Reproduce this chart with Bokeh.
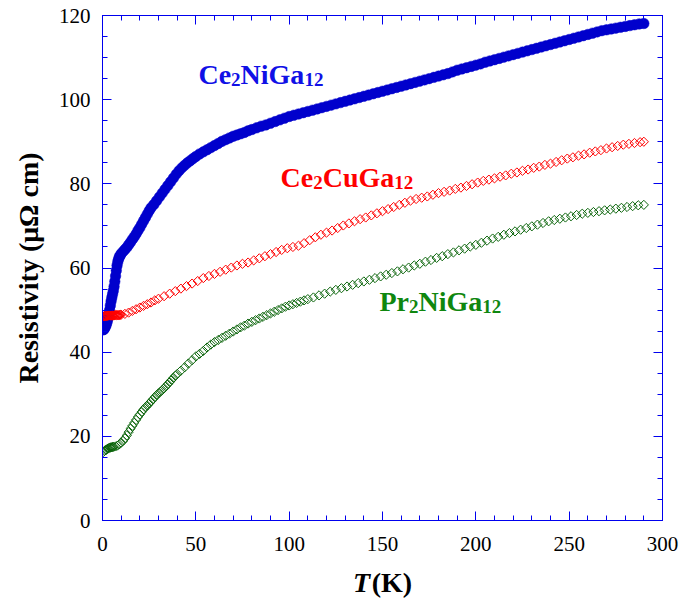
import numpy as np
from bokeh.plotting import figure
from bokeh.layouts import column
from bokeh.models import (Range1d, LinearAxis, SingleIntervalTicker, ColumnDataSource,
                          CustomJSTickFormatter)
from bokeh.core.properties import value
from bokeh.embed import file_html
from bokeh.resources import INLINE

# ---------------- data ----------------
T_ni = [0.3, 0.7, 1.0, 1.4, 1.8, 2.2, 2.6, 3.0, 3.4, 3.8, 4.2, 4.6, 5.0, 5.4, 5.8, 6.2, 6.6, 7.0,
        7.4, 7.8, 8.2, 8.6, 9.0, 9.5, 10, 11, 12, 13, 14, 15, 16, 17, 18, 19, 20, 21, 22, 23, 24, 25,
        26, 27.5, 29, 30.5, 32, 33.5, 35, 36.5, 38, 39.5, 41, 42.5, 44, 45.5, 47, 48.5, 50, 52, 54,
        56, 58, 60, 62, 64, 66, 68, 70, 72, 74, 76, 78, 80, 82.5, 85, 87.5, 90, 92.5, 95, 97.5, 100,
        102.5, 105, 107.5, 110, 112.5, 115, 117.5, 120, 122.5, 125, 127.5, 130, 132.5, 135, 137.5,
        140, 142.5, 145, 147.5, 150, 152.5, 155, 157.5, 160, 162.5, 165, 167.5, 170, 172.5, 175,
        177.5, 180, 182.5, 185, 187.5, 190, 192.5, 195, 197.5, 200, 202.5, 205, 207.5, 210, 212.5,
        215, 217.5, 220, 222.5, 225, 227.5, 230, 232.5, 235, 237.5, 240, 242.5, 245, 247.5, 250,
        252.5, 255, 257.5, 260, 262.5, 265, 267.5, 270, 272.5, 275, 277.5, 280, 282.5, 285, 287.5, 290]
R_ni = [45.3, 45.4, 45.6, 45.9, 46.3, 46.8, 47.4, 48.1, 49.0, 50.0, 51.1, 52.1, 53.0, 53.8, 54.6,
        55.6, 56.8, 58.1, 59.4, 60.6, 61.5, 62.1, 62.6, 63.0, 63.4, 63.9, 64.4, 64.9, 65.5, 66.1,
        66.8, 67.4, 68.1, 68.9, 69.6, 70.4, 71.2, 72.0, 72.8, 73.6, 74.3, 75.1, 76.0, 76.9, 77.8,
        78.7, 79.6, 80.5, 81.4, 82.3, 83.1, 83.8, 84.4, 85.0, 85.5, 86.0, 86.5, 87.1, 87.6, 88.1,
        88.6, 89.1, 89.6, 90.1, 90.5, 90.9, 91.3, 91.6, 91.9, 92.2, 92.6, 92.9, 93.3, 93.7, 94.0,
        94.4, 94.8, 95.2, 95.6, 96.0, 96.3, 96.6, 96.9, 97.2, 97.5, 97.8, 98.1, 98.4, 98.7, 99.0,
        99.3, 99.6, 99.9, 100.2, 100.5, 100.8, 101.1, 101.4, 101.7, 102.0, 102.3, 102.6, 102.9,
        103.2, 103.5, 103.8, 104.1, 104.4, 104.7, 105.0, 105.3, 105.6, 105.9, 106.2, 106.6, 107.0,
        107.3, 107.6, 107.9, 108.2, 108.5, 108.9, 109.2, 109.5, 109.8, 110.1, 110.4, 110.7, 111.0,
        111.3, 111.6, 111.9, 112.2, 112.5, 112.8, 113.1, 113.4, 113.7, 114.0, 114.3, 114.6, 114.9,
        115.2, 115.5, 115.8, 116.1, 116.4, 116.6, 116.8, 117.0, 117.2, 117.4, 117.6, 117.8, 118.0,
        118.1]

T_cu = [0.4, 0.8, 1.2, 1.6, 2.0, 2.5, 3.0, 3.5, 4.0, 4.5, 5.0, 5.5, 6.0, 6.5, 7.0, 7.5, 8.0, 8.5,
        9.0, 9.5, 10, 12, 14, 16, 18, 20, 22, 24, 26, 28, 30, 33, 36, 39, 42, 45, 48, 51, 54, 57, 60,
        63, 66, 69, 72, 75, 78, 81, 84, 87, 90, 93, 96, 99, 102, 105, 108, 111, 114, 117, 120, 123,
        126, 129, 132, 135, 138, 141, 144, 147, 150, 153, 156, 159, 162, 165, 168, 171, 174, 177,
        180, 183, 186, 189, 192, 195, 198, 201, 204, 207, 210, 213, 216, 219, 222, 225, 228, 231,
        234, 237, 240, 243, 246, 249, 252, 255, 258, 261, 264, 267, 270, 273, 276, 279, 282, 285,
        288, 290]
R_cu = [48.5, 48.5, 48.6, 48.6, 48.6, 48.6, 48.7, 48.7, 48.7, 48.7, 48.7, 48.7, 48.7, 48.8, 48.8,
        48.8, 48.8, 48.8, 48.8, 48.9, 48.9, 49.1, 49.4, 49.8, 50.2, 50.6, 51.0, 51.4, 51.8, 52.3,
        52.7, 53.3, 53.9, 54.5, 55.1, 55.7, 56.3, 56.9, 57.6, 58.1, 58.6, 59.1, 59.6, 60.1, 60.6,
        61.0, 61.3, 61.8, 62.3, 62.8, 63.3, 63.8, 64.3, 64.7, 65.0, 65.3, 65.9, 66.6, 67.3, 67.9,
        68.4, 68.9, 69.5, 70.1, 70.6, 71.1, 71.6, 72.0, 72.5, 73.0, 73.5, 74.0, 74.5, 75.0, 75.5,
        76.0, 76.4, 76.7, 77.0, 77.4, 77.8, 78.1, 78.4, 78.8, 79.1, 79.5, 79.9, 80.3, 80.7, 81.0,
        81.3, 81.7, 82.0, 82.4, 82.7, 83.1, 83.4, 83.8, 84.1, 84.5, 84.8, 85.2, 85.6, 86.0, 86.3,
        86.7, 87.0, 87.4, 87.7, 88.0, 88.4, 88.7, 89.0, 89.3, 89.5, 89.7, 89.9, 90.0]

T_pr = [0.5, 1.0, 1.5, 2.0, 2.5, 3.0, 3.5, 4.0, 4.5, 5.0, 5.5, 6.0, 7, 8, 9, 10, 11, 12, 13, 14, 15,
        16, 17, 18, 19, 20, 21, 22, 23, 24, 25, 26, 27, 28, 29, 30, 31, 32, 33, 34, 35, 36, 37, 38,
        39, 40, 42, 44, 46, 48, 50, 52, 54, 56, 58, 60, 62, 64, 66, 68, 70, 72, 74, 76, 78, 80, 82,
        84, 86, 88, 90, 92, 94, 96, 98, 100, 102, 104, 106, 108, 110, 113, 116, 119, 122, 125, 128,
        131, 134, 137, 140, 143, 146, 149, 152, 155, 158, 161, 164, 167, 170, 173, 176, 179, 182,
        185, 188, 191, 194, 197, 200, 203, 206, 209, 212, 215, 218, 221, 224, 227, 230, 233, 236,
        239, 242, 245, 248, 251, 254, 257, 260, 263, 266, 269, 272, 275, 278, 281, 284, 287, 290]
R_pr = [16.3, 16.5, 16.7, 16.8, 17.0, 17.1, 17.2, 17.3, 17.4, 17.4, 17.5, 17.5, 17.6, 17.8, 18.1,
        18.5, 18.9, 19.5, 20.2, 21.0, 21.8, 22.5, 23.2, 23.9, 24.6, 25.2, 25.8, 26.4, 26.9, 27.3,
        27.8, 28.3, 28.8, 29.3, 29.8, 30.2, 30.6, 31.0, 31.4, 31.9, 32.4, 32.9, 33.4, 33.9, 34.4,
        34.8, 35.6, 36.4, 37.3, 38.1, 39.0, 39.6, 40.3, 41.1, 41.8, 42.4, 42.9, 43.4, 43.9, 44.4,
        44.9, 45.4, 45.9, 46.3, 46.8, 47.2, 47.6, 48.0, 48.4, 48.8, 49.2, 49.6, 50.0, 50.4, 50.8,
        51.1, 51.4, 51.7, 52.0, 52.3, 52.6, 53.0, 53.5, 53.9, 54.4, 54.8, 55.2, 55.6, 56.0, 56.4,
        56.8, 57.2, 57.6, 58.0, 58.4, 58.8, 59.2, 59.7, 60.1, 60.6, 61.0, 61.5, 61.9, 62.4, 62.8,
        63.3, 63.7, 64.2, 64.6, 65.1, 65.5, 66.0, 66.5, 67.0, 67.4, 67.9, 68.3, 68.7, 69.1, 69.5,
        69.9, 70.3, 70.7, 71.1, 71.4, 71.7, 72.0, 72.3, 72.6, 72.9, 73.1, 73.3, 73.5, 73.7, 73.9,
        74.1, 74.3, 74.5, 74.7, 74.9, 75.0]

x_ticks_interval = 50
y_ticks_interval = 20

# ---------------- styles ----------------
AX = "#0000ee"
BLUE = "#0000cc"
BLUE_TXT = "#1010e6"
RED = "#ff0000"
GREEN = "#0a640a"
GREEN_TXT = "#0f870f"
SERIF = "Liberation Serif"

MAIN_H = 565
BL, BR = 102, 25
xr = Range1d(0, 300)
p = figure(width=687, height=MAIN_H, output_backend="svg", toolbar_location=None,
           x_range=xr, y_range=Range1d(0, 120),
           min_border_left=BL, min_border_right=BR, min_border_top=15,
           min_border_bottom=MAIN_H - 520)
p.background_fill_color = "white"
p.border_fill_color = "white"
p.grid.visible = False
p.outline_line_color = AX
p.outline_line_width = 1

xt = SingleIntervalTicker(interval=x_ticks_interval, num_minor_ticks=5)
yt = SingleIntervalTicker(interval=y_ticks_interval, num_minor_ticks=4)

def style_axis(ax, show_labels):
    ax.axis_line_color = AX
    ax.major_tick_line_color = AX
    ax.minor_tick_line_color = AX
    ax.major_tick_in = 9
    ax.major_tick_out = 0
    ax.minor_tick_in = 5
    ax.minor_tick_out = 0
    ax.major_label_text_font = SERIF
    ax.major_label_text_color = "black"
    ax.major_label_text_font_size = "21px"
    if not show_labels:
        ax.formatter = CustomJSTickFormatter(code="return ''")
        ax.major_label_standoff = 0

p.xaxis.ticker = xt
p.yaxis.ticker = yt
style_axis(p.xaxis[0], True)
style_axis(p.yaxis[0], True)
p.xaxis.major_label_standoff = 16
p.yaxis.major_label_standoff = 12

p.yaxis.axis_label = "Resistivity (μΩ cm)"
p.yaxis.axis_label_text_font = SERIF
p.yaxis.axis_label_text_font_style = "bold"
p.yaxis.axis_label_text_font_size = "28px"
p.yaxis.axis_label_text_color = "black"
p.yaxis.axis_label_standoff = 12

top = LinearAxis(ticker=SingleIntervalTicker(interval=x_ticks_interval, num_minor_ticks=5))
right = LinearAxis(ticker=SingleIntervalTicker(interval=y_ticks_interval, num_minor_ticks=4))
style_axis(top, False)
style_axis(right, False)
p.add_layout(top, "above")
p.add_layout(right, "right")

# ---------------- data glyphs (blue below, red, green on top) ----------------
p.scatter(T_ni, R_ni, marker="circle", size=10.5, fill_color=BLUE, line_color=BLUE, line_width=0.5)
p.scatter(T_cu, R_cu, marker="square", angle=np.pi / 4, size=6.5, fill_color=None,
          line_color=RED, line_width=1)
p.scatter(T_pr, R_pr, marker="square", angle=np.pi / 4, size=6.5, fill_color=None,
          line_color=GREEN, line_width=1)

# ---------------- compound labels ----------------
WIDTHS = {"C": 0.722, "e": 0.444, "N": 0.722, "i": 0.278, "G": 0.778, "a": 0.5,
          "u": 0.556, "P": 0.611, "r": 0.444, "1": 0.5, "2": 0.5}
RAISE = -8  # px (rendered baseline correction)

def compound(fig, x, y, parts, color):
    xs, ys, txt, dx, dy, fs = [], [], [], [], [], []
    off = 0.0
    for t, sub in parts:
        size = 19 if sub else 28
        xs.append(x); ys.append(y); txt.append(t); dx.append(off)
        dy.append((5 if sub else 0) + RAISE); fs.append(f"{size}px")
        off += sum(WIDTHS[c] for c in t) * size
    src = ColumnDataSource(dict(x=xs, y=ys, text=txt, dx=dx, dy=dy, fs=fs))
    fig.text(x="x", y="y", text="text", x_offset="dx", y_offset="dy", text_font_size="fs",
             source=src, text_font=value(SERIF), text_font_style="bold", text_color=color,
             text_align="left", text_baseline="alphabetic")

compound(p, 51.4, 104.1, [("Ce", False), ("2", True), ("NiGa", False), ("12", True)], BLUE_TXT)
compound(p, 95.4, 79.6, [("Ce", False), ("2", True), ("CuGa", False), ("12", True)], RED)
compound(p, 148.4, 50.1, [("Pr", False), ("2", True), ("NiGa", False), ("12", True)], GREEN_TXT)

# ---------------- x-axis title strip: T(K) with italic T ----------------
STRIP_H = 602 - MAIN_H
q = figure(width=687, height=STRIP_H, output_backend="svg", toolbar_location=None,
           x_range=xr, y_range=Range1d(0, STRIP_H),
           x_axis_type=None, y_axis_type=None, min_border=0,
           min_border_left=BL, min_border_right=BR, min_border_top=0, min_border_bottom=0)
q.grid.visible = False
q.outline_line_color = None
q.background_fill_color = "white"
q.border_fill_color = "white"
src_t = ColumnDataSource(dict(x=[150, 150], y=[12, 12], text=["T", "(K)"],
                              dx=[-29.5, -10.8], dy=[RAISE, RAISE],
                              style=["bold italic", "bold"]))
q.text(x="x", y="y", text="text", x_offset="dx", y_offset="dy", source=src_t,
       text_font=value(SERIF), text_font_style="style", text_font_size="28px",
       text_color="black", text_align="left", text_baseline="alphabetic")

layout = column(p, q, spacing=0)
open("out.html", "w").write(file_html(layout, INLINE))
